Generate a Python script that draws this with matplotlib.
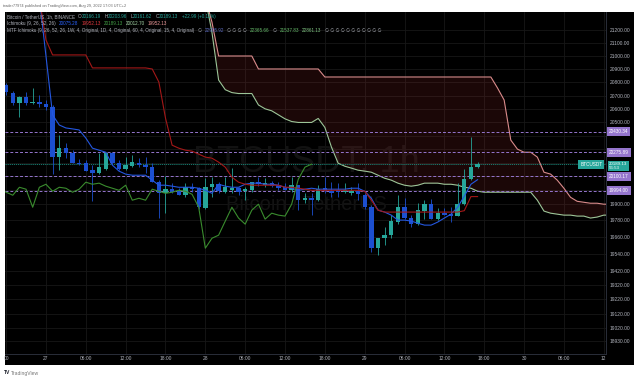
import matplotlib
matplotlib.use('Agg')
import matplotlib.pyplot as plt
import matplotlib.ticker as mticker
from matplotlib.patches import Rectangle
from matplotlib.offsetbox import TextArea, HPacker, VPacker, AnchoredOffsetbox
import numpy as np

plt.rcParams['font.family'] = ['Liberation Sans', 'DejaVu Sans']

# ---------- data: hourly BTCUSDT candles, hours counted from 27 Aug 00:00 ----------
hours = list(range(-6, 66))
opens = [20778, 20718, 20643, 20688, 20643, 20650, 20635, 20613, 20241, 20307,
         20270, 20196, 20196, 20145, 20123, 20152, 20270, 20196, 20152, 20174,
         20196, 20182, 20167, 20057, 19976, 20006, 19991, 19962, 20020, 20013,
         19868, 20020, 20042, 19984, 19998, 20013, 19991, 19998, 20057, 20035,
         20050, 20035, 20020, 19998, 20035, 19926, 19940, 19926, 20013, 19991,
         19998, 19984, 19976, 19991, 19962, 19875, 19581, 19653, 19674, 19768,
         19875, 19797, 19753, 19847, 19897, 19789, 19832, 19825, 19811, 19897,
         20079, 20166.19]
highs = [20793, 20733, 20696, 20726, 20756, 20703, 20665, 20628, 20404, 20343,
         20292, 20226, 20218, 20182, 20270, 20277, 20277, 20218, 20241, 20255,
         20233, 20241, 20196, 20072, 20101, 20050, 20013, 20050, 20050, 20020,
         20086, 20094, 20057, 20094, 20160, 20020, 20020, 20057, 20094, 20086,
         20064, 20057, 20050, 20094, 20035, 19976, 19976, 20035, 20094, 20057,
         20050, 20050, 20020, 20050, 19976, 19890, 19653, 19732, 19818, 19962,
         19940, 19818, 19904, 19926, 19933, 19868, 19868, 19875, 20050, 20152,
         20390, 20203.96]
lows = [20704, 20628, 20538, 20628, 20635, 20613, 20590, 20115, 20145, 20233,
        20196, 20182, 20138, 19918, 20115, 20145, 20189, 20145, 20145, 20167,
        20167, 20123, 20057, 19800, 19836, 19976, 19962, 19947, 19984, 19861,
        19861, 19947, 19976, 19976, 19976, 19962, 19926, 19984, 20028, 20020,
        20020, 19998, 19998, 19984, 19854, 19904, 19818, 19918, 19976, 19947,
        19947, 19976, 19962, 19926, 19861, 19553, 19531, 19602, 19652, 19753,
        19789, 19732, 19746, 19789, 19789, 19782, 19818, 19768, 19811, 19890,
        20072, 20161.62]
closes = [20726, 20643, 20688, 20643, 20650, 20635, 20613, 20241, 20307, 20270,
          20196, 20189, 20138, 20123, 20167, 20270, 20196, 20152, 20182, 20204,
          20182, 20167, 20057, 19976, 20006, 19984, 19962, 20020, 20006, 19875,
          20020, 20042, 19991, 20020, 20013, 19984, 20006, 20057, 20042, 20050,
          20028, 20013, 19998, 20035, 19926, 19940, 19926, 20006, 19991, 19976,
          19984, 19998, 19991, 19969, 19875, 19581, 19652, 19674, 19775, 19875,
          19797, 19753, 19854, 19897, 19789, 19832, 19818, 19811, 19897, 20079,
          20167, 20189.13]

# Ichimoku (9, 26, 52, 26)
tenkan = [21450] * 6 + [
    21000, 20554, 20479, 20457, 20450, 20442, 20382, 20307, 20292, 20277,
    20182, 20138, 20116, 20108, 20108, 20108, 20072, 20035, 20035, 20028,
    20020, 20020, 20020, 20013, 19998, 19976, 20042, 20028, 20020, 20020,
    20042, 20050, 20050, 20042, 20042, 20035, 20020, 20013, 19998, 20006,
    20013, 20006, 20006, 20006, 20006, 20006, 20013, 20013, 19991, 19940,
    19854, 19840, 19818, 19782, 19782, 19775, 19760, 19746, 19746, 19768,
    19797, 19825, 19875, 19955, 20042, 20075.28]
kijun = [21450] * 6 + [21123] + [21008] * 6 + [20909] * 9 + [
    20901, 20802, 20531, 20329, 20307, 20292, 20285, 20263, 20241, 20233,
    20204, 20167, 20094, 20057, 20042] + [20035] * 5 + [
    20020, 20020, 20013, 20006] + [19998] * 8 + [
    19991, 19926, 19854, 19840] + [19840] * 11 + [19850, 19952.13, 19952.13]
chikou_shift = 25

# MTF Ichimoku cloud
cloud_hours = list(range(24, 86))
cloud_upper = [21450, 21260] + [21000] * 6 + [20901] * 10 + [20840] * 26 + [
    20757, 20666, 20367, 20300, 20277, 20277, 20241, 20130, 20116, 20072,
    20013, 19947, 19918, 19911, 19904, 19904, 19897, 19897]
cloud_lower = [
    21450, 21180, 20817, 20744, 20722, 20715, 20715, 20715, 20629, 20600,
    20585, 20555, 20525, 20505, 20498, 20498, 20498, 20528, 20461, 20314,
    20196, 20174, 20160, 20145, 20138, 20130, 20108, 20086, 20072, 20050,
    20035, 20028, 20035, 20050, 20050, 20050, 20042, 20042, 20035, 20020,
    20013, 19991] + [19984] * 8 + [
    19926, 19847, 19832, 19825, 19818, 19818, 19811, 19811, 19797, 19804,
    19818, 19818]

# horizontal levels
level_prices = [20430.34, 20275.89, 20100.17, 19994.00]
last_price = 20189.13

price_ticks = [21200, 21100, 21000, 20900, 20800, 20700, 20600, 20500, 20400,
               20300, 20200, 20100, 20000, 19900, 19780, 19660, 19540, 19420,
               19320, 19220, 19120, 19020, 18930]
hidden_ticks = [20400, 20300, 20200, 20100, 20000]   # covered by the price tags
time_ticks = [-6, 0, 6, 12, 18, 24, 30, 36, 42, 48, 54, 60, 66, 72, 78, 84]
time_labels = ['00', '27', '06:00', '12:00', '18:00', '28', '06:00', '12:00',
               '18:00', '29', '06:00', '12:00', '18:00', '30', '06:00', '12']

# ---------- colours ----------
UP = '#26a69a'
DOWN = '#1c4fd0'
TXT = '#b2b5be'
PURPLE = '#9575cd'

W, H = 640, 380
fig = plt.figure(figsize=(6.4, 3.8), dpi=100, facecolor='white')
fig.patches.append(Rectangle((5 / W, 1 - 365 / H), 629 / W, 353 / H,
                             transform=fig.transFigure, facecolor='black',
                             edgecolor='none', zorder=-5))
ax = fig.add_axes([5 / W, 26 / H, 601 / W, 342 / H])
ax.set_facecolor('black')
ax.set_yscale('log')
ax.set_xlim(-6.17, 84.34)
ax.set_ylim(18841, 21339)

# grid + axes
ax.set_axisbelow(True)
ax.yaxis.set_major_locator(mticker.FixedLocator(price_ticks))
ax.yaxis.set_minor_locator(mticker.NullLocator())
ax.yaxis.set_major_formatter(mticker.FixedFormatter(
    ['' if v in hidden_ticks else '%.2f' % v for v in price_ticks]))
ax.yaxis.set_minor_formatter(mticker.NullFormatter())
ax.set_xticks(time_ticks)
ax.set_xticklabels(time_labels)
ax.yaxis.tick_right()
ax.tick_params(axis='both', length=0, colors=TXT, labelsize=3.5)
ax.tick_params(axis='y', pad=2.9)
ax.tick_params(axis='x', pad=1.8)
ax.grid(color='#171717', lw=0.6)
for s in ['top', 'left']:
    ax.spines[s].set_visible(False)
for s in ['right', 'bottom']:
    ax.spines[s].set_color('#2a2e39')
    ax.spines[s].set_linewidth(0.7)

# watermark
ax.text(0.501, 0.561, 'BTCUSDT, 1h', transform=ax.transAxes, ha='center',
        va='center', fontsize=26, color='#121212', zorder=0.6)
ax.text(0.501, 0.436, 'Bitcoin / TetherUS', transform=ax.transAxes, ha='center',
        va='center', fontsize=14.5, color='#121212', zorder=0.6)

# cloud
ax.fill_between(cloud_hours, cloud_lower, cloud_upper, color='#b83030',
                alpha=0.15, lw=0, zorder=1)
ax.plot(cloud_hours, cloud_upper, color='#d98b8b', lw=0.8, zorder=2)
ax.plot(cloud_hours, cloud_lower, color='#9cc598', lw=0.8, zorder=2)

# levels
for v in level_prices:
    ax.axhline(v, color=PURPLE, lw=0.7, ls=(0, (3, 2)), zorder=3)
ax.axhline(last_price, color='#1b8a7c', lw=0.6, ls=(0, (1.5, 1)), zorder=3)

# candles
o = np.array(opens)
c = np.array(closes)
up = c >= o
cols = np.where(up, UP, DOWN)
ax.vlines(hours, lows, highs, colors=cols, lw=0.6, zorder=4)
ax.bar(hours, np.maximum(np.abs(c - o), 6), bottom=np.minimum(o, c), width=0.66,
       color=cols, lw=0, zorder=5)

# ichimoku lines
ax.plot(hours, tenkan, color='#2457e0', lw=0.8, zorder=6)
ax.plot(hours, kijun, color='#a31818', lw=0.8, zorder=6)
ax.plot(np.array(hours) - chikou_shift, closes, color='#3a8c2e', lw=0.8, zorder=6)

# price tags
for v in level_prices:
    ax.annotate('%.2f' % v, xy=(1.0, v), xycoords=('axes fraction', 'data'),
                xytext=(2.2, 0), textcoords='offset points', ha='left', va='center',
                fontsize=3.4, color='white', annotation_clip=False, zorder=10,
                bbox=dict(boxstyle='square,pad=0.4', fc=PURPLE, ec='none'))
ax.annotate('%.2f\n56:53' % last_price, xy=(1.0, last_price),
            xycoords=('axes fraction', 'data'), xytext=(2.2, -1.3),
            textcoords='offset points', ha='left', va='center', fontsize=3.2,
            linespacing=1.0, color='white', annotation_clip=False, zorder=10,
            bbox=dict(boxstyle='square,pad=0.3', fc=UP, ec='none'))
ax.annotate('BTCUSDT', xy=(1.0, last_price), xycoords=('axes fraction', 'data'),
            xytext=(-2.6, 0), textcoords='offset points', ha='right', va='center',
            fontsize=3.4, color='white', annotation_clip=False, zorder=10,
            bbox=dict(boxstyle='square,pad=0.4', fc=UP, ec='none'))

# legend block (top left)
def seg(t, col):
    return TextArea(t, textprops=dict(color=col, fontsize=3.3))

def row(items, sep=2.2):
    return HPacker(children=items, sep=sep, align='baseline')

val = '#26a69a'
line1 = row([seg('Bitcoin / TetherUS, 1h, BINANCE', TXT)] +
            [row([seg(k, TXT), seg(v, val)], sep=0.2) for k, v in
             [('O', '20166.19'), ('H', '20203.96'), ('L', '20161.62'), ('C', '20189.13')]] +
            [seg('+22.99 (+0.11%)', val)])
line2 = row([seg('Ichimoku (9, 26, 52, 26)', TXT), seg('20075.28', '#2962ff'),
             seg('19952.13', '#e0393e'), seg('20189.13', '#43a047'),
             seg('20012.70', '#a5d6a7'), seg('19952.13', '#ef9a9a')])
line3 = row([seg('MTF Ichimoku (9, 26, 52, 26, 1W, 4, Original, 1D, 4, Original, '
                 '60, 4, Original, 15, 4, Original)', TXT),
             seg('\u2205', TXT), seg('22905.92', '#5c6bc0'),
             seg('\u2205 \u2205 \u2205 \u2205', TXT), seg('22365.66', '#66bb6a'),
             seg('\u2205', TXT), seg('21537.83', '#66bb6a'), seg('22861.13', '#81c784'),
             seg(' '.join(['\u2205'] * 11), TXT)])
block = VPacker(children=[line1, line2, line3], sep=1.6, align='left')
anch = AnchoredOffsetbox(loc='upper left', child=block, pad=0, borderpad=0,
                         frameon=False, bbox_to_anchor=(7 / W, 1 - 14 / H),
                         bbox_transform=fig.transFigure)
anch.set_zorder(11)
ax.add_artist(anch)

# header / footer
fig.text(3 / W, 1 - 5.5 / H, 'trader77974 published on TradingView.com, Aug 29, 2022 17:03 UTC+2',
         fontsize=2.8, color='#666666', va='center')
fig.text(4 / W, 1 - 373 / H, 'TV', fontsize=3.6, fontweight='bold', color='#131722', va='center')
fig.text(11 / W, 1 - 373 / H, 'TradingView', fontsize=3.6, color='#777777', va='center')

fig.savefig('out.png', dpi=100, facecolor='white')
